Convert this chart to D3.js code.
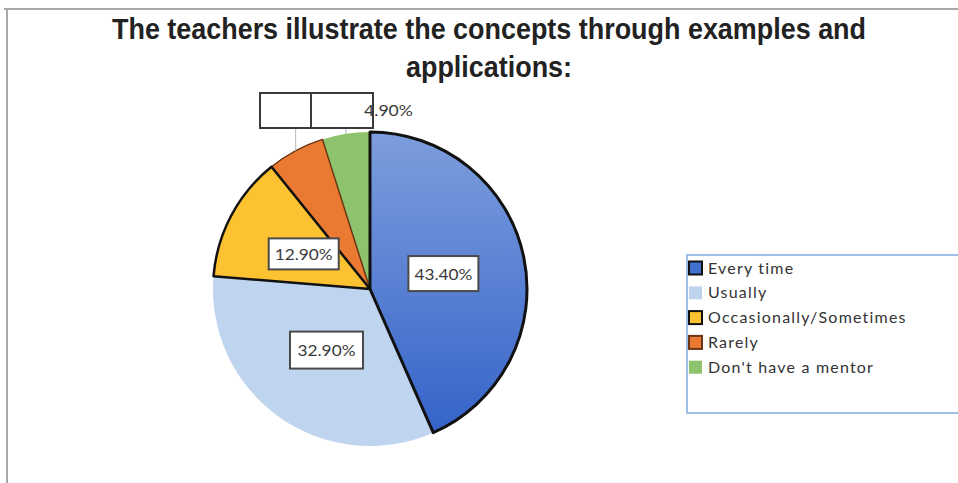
<!DOCTYPE html>
<html>
<head>
<meta charset="utf-8">
<script src="https://cdn.jsdelivr.net/npm/d3@7"></script>
<style>
  html, body { margin: 0; padding: 0; background: #fff; }
  svg { display: block; }
</style>
</head>
<body>
<svg id="chart" width="958" height="483"></svg>
<script>
// Survey responses
const titleLines = ["The teachers illustrate the concepts through examples and", "applications:"];
const categories = ["Every time", "Usually", "Occasionally/Sometimes", "Rarely", "Don't have a mentor"];
const values = [43.4, 32.9, 12.9, 5.9, 4.9];
const valueLabels = ["43.40%", "32.90%", "12.90%", "", "4.90%"];

const colors = ["url(#blueGrad)", "#bfd5ef", "#fcc232", "#ea7a31", "#8cc36c"];
const legendColors = ["#3f6fcf", "#bfd5ef", "#fcc232", "#ea7a31", "#8cc36c"];
const strokes = ["#111", null, "#111", "#6b3514", null];
const strokeW = [3, 0, 2.5, 1.5, 0];

const svg = d3.select("#chart");
const defs = svg.append("defs");
const g1 = defs.append("linearGradient").attr("id", "blueGrad")
  .attr("x1", 0).attr("y1", 0).attr("x2", 0).attr("y2", 1);
g1.append("stop").attr("offset", "0%").attr("stop-color", "#7d9edd");
g1.append("stop").attr("offset", "100%").attr("stop-color", "#3563c9");

// frame
svg.append("path").attr("d", "M4,9 H958 M7,9 V483")
  .attr("fill", "none").attr("stroke", "#a8a8a8").attr("stroke-width", 2);

// title
svg.selectAll("text.title").data(titleLines).join("text")
  .attr("class", "title")
  .attr("x", 489).attr("y", (d, i) => 39 + i * 38)
  .attr("text-anchor", "middle")
  .attr("font-family", "'Liberation Sans Narrow', 'Liberation Sans', Arial, sans-serif")
  .attr("font-weight", "bold").attr("font-size", 29)
  .attr("fill", "#222")
  .attr("textLength", (d, i) => i === 0 ? 754 : 166)
  .attr("lengthAdjust", "spacingAndGlyphs")
  .text(d => d);

// pie
const cx = 370, cy = 289, R = 157;
const pie = d3.pie().sort(null).value(d => d);
const arcs = pie(values);
const arc = d3.arc().innerRadius(0).outerRadius(R);
const gp = svg.append("g").attr("transform", `translate(${cx},${cy})`);

gp.selectAll("path.slice").data(arcs).join("path")
  .attr("class", "slice")
  .attr("d", arc)
  .attr("fill", (d, i) => colors[i]);

// outlined slices drawn on top
const outlined = arcs.map((d, i) => ({ d, i })).filter(o => strokes[o.i]);
outlined.sort((a, b) => strokeW[a.i] - strokeW[b.i]);
gp.selectAll("path.edge").data(outlined).join("path")
  .attr("class", "edge")
  .attr("d", o => arc(o.d))
  .attr("fill", "none")
  .attr("stroke", o => strokes[o.i])
  .attr("stroke-width", o => strokeW[o.i])
  .attr("stroke-linejoin", "round");

// inside labels
const labelArc = d3.arc().innerRadius(75).outerRadius(75);
const labelFont = "Lato, 'Open Sans', sans-serif";
const inside = arcs.map((d, i) => ({ d, i })).filter(o => o.i < 3);
const boxSizes = [[70, 35], [73, 37], [70, 31]];
inside.forEach(o => {
  const [x, y] = labelArc.centroid(o.d);
  const [w, h] = boxSizes[o.i];
  gp.append("rect")
    .attr("x", x - w / 2).attr("y", y - h / 2)
    .attr("width", w).attr("height", h)
    .attr("fill", "#fff").attr("stroke", "#4a4a4a").attr("stroke-width", 2);
  gp.append("text")
    .attr("x", x).attr("y", y + 6)
    .attr("text-anchor", "middle")
    .attr("font-family", labelFont).attr("font-size", 16)
    .attr("fill", "#3a3a3a")
    .attr("textLength", 58).attr("lengthAdjust", "spacingAndGlyphs")
    .text(valueLabels[o.i]);
});

// outside callouts for the two small slices
const callouts = [
  { i: 3, x: 260, w: 51 },
  { i: 4, x: 311, w: 62 }
];
const boxTop = 93, boxH = 35;
callouts.forEach(c => {
  const a = arcs[c.i];
  const mid = (a.startAngle + a.endAngle) / 2;
  const ex = cx + R * Math.sin(mid), ey = cy - R * Math.cos(mid);
  svg.append("line")
    .attr("x1", ex).attr("y1", boxTop + boxH)
    .attr("x2", ex).attr("y2", ey)
    .attr("stroke", "#b8b8b8").attr("stroke-width", 1);
});
callouts.forEach(c => {
  svg.append("rect")
    .attr("x", c.x).attr("y", boxTop).attr("width", c.w).attr("height", boxH)
    .attr("fill", "#fff").attr("stroke", "#3a3a3a").attr("stroke-width", 2);
});
svg.append("text")
  .attr("x", 364).attr("y", 116)
  .attr("font-family", labelFont).attr("font-size", 15)
  .attr("fill", "#3a3a3a")
  .attr("textLength", 49).attr("lengthAdjust", "spacingAndGlyphs")
  .text(valueLabels[4]);

// legend
svg.append("rect")
  .attr("x", 687).attr("y", 255).attr("width", 290).attr("height", 158)
  .attr("fill", "#fff").attr("stroke", "#9cc0e6").attr("stroke-width", 2);
const lg = svg.append("g");
const rows = lg.selectAll("g").data(categories).join("g")
  .attr("transform", (d, i) => `translate(689, ${268 + i * 24.8})`);
rows.append("rect")
  .attr("x", 0).attr("y", -6.5).attr("width", 13).attr("height", 13)
  .attr("fill", (d, i) => legendColors[i])
  .attr("stroke", (d, i) => strokes[i] || "none")
  .attr("stroke-width", (d, i) => strokes[i] ? 2 : 0);
rows.append("text")
  .attr("x", 19).attr("y", 5.5)
  .attr("font-family", labelFont).attr("font-size", 16)
  .attr("letter-spacing", 1.2)
  .attr("fill", "#333")
  .text(d => d);
</script>
</body>
</html>
